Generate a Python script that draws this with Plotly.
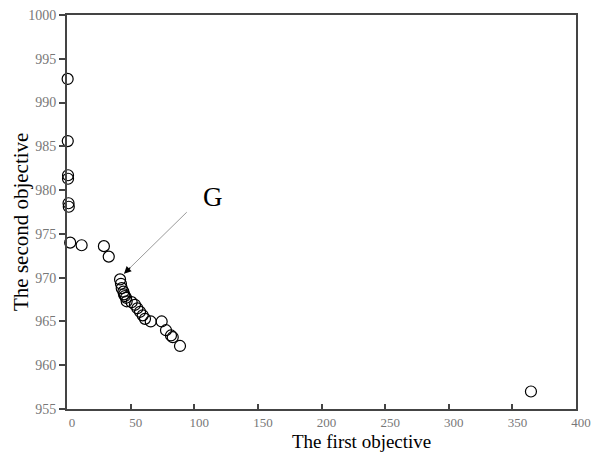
import plotly.graph_objects as go

# Pareto front points (first objective, second objective)
obj1 = [0.5, 0.6, 0.8, 0.8, 1.2, 1.4, 2.5, 11.5, 29.0, 32.8,
        41.7, 42.4, 43.0, 44.3, 44.8, 45.5, 46.4, 46.9, 50.8, 53.4,
        55.3, 57.4, 59.5, 61.3, 65.8, 74.4, 77.8, 81.7, 83.1, 88.8,
        364.6]
obj2 = [992.7, 985.6, 981.7, 981.3, 978.5, 978.1, 974.0, 973.7, 973.6, 972.4,
        969.8, 969.3, 968.8, 968.4, 968.1, 967.9, 967.7, 967.3, 967.2, 966.9,
        966.5, 966.1, 965.7, 965.3, 965.0, 965.0, 964.0, 963.4, 963.2, 962.2,
        957.0]

x_ticks = [0, 50, 100, 150, 200, 250, 300, 350, 400]
y_ticks = [955, 960, 965, 970, 975, 980, 985, 990, 995, 1000]

x_title = "The first objective"
y_title = "The second objective"
label_G = "G"
g_pos = (114.8, 979.2)
arrow_head = (44.8, 970.45)
arrow_tail = (95.3, 977.65)

serif = "Liberation Serif, Times New Roman, serif"

fig = go.Figure()
fig.add_trace(go.Scatter(
    x=obj1, y=obj2, mode="markers",
    marker=dict(symbol="circle-open", size=11, color="black",
                line=dict(width=1.2, color="black")),
    showlegend=False, cliponaxis=False,
))

# grey arrow shaft
fig.add_annotation(x=arrow_head[0], y=arrow_head[1], ax=arrow_tail[0], ay=arrow_tail[1],
                   xref="x", yref="y", axref="x", ayref="y", text="",
                   showarrow=True, arrowhead=0, arrowwidth=1, arrowcolor="#9a9a9a",
                   standoff=0)
# black arrow head
fig.add_annotation(x=arrow_head[0], y=arrow_head[1],
                   ax=arrow_head[0] + (arrow_tail[0] - arrow_head[0]) * 0.12,
                   ay=arrow_head[1] + (arrow_tail[1] - arrow_head[1]) * 0.12,
                   xref="x", yref="y", axref="x", ayref="y", text="",
                   showarrow=True, arrowhead=2, arrowsize=1.2, arrowwidth=1.2,
                   arrowcolor="black", standoff=0)
fig.add_annotation(x=g_pos[0], y=g_pos[1], xref="x", yref="y", text=label_G,
                   showarrow=False, font=dict(family=serif, size=27, color="black"))

# axis titles
fig.add_annotation(x=0.578, y=-0.0533, xref="paper", yref="paper", text=x_title,
                   showarrow=False, xanchor="center", yanchor="top", borderpad=0,
                   font=dict(family=serif, size=19, color="black"))
fig.add_annotation(x=-0.0904, y=0.4746, xref="paper", yref="paper", text=y_title,
                   showarrow=False, xanchor="center", yanchor="middle", textangle=-90,
                   font=dict(family=serif, size=21, color="black"))

fig.update_layout(
    width=598, height=452,
    margin=dict(l=67, r=22, t=15, b=43, autoexpand=False),
    plot_bgcolor="white", paper_bgcolor="white",
    font=dict(family=serif),
)
fig.update_xaxes(
    range=[0, 400], tickvals=x_ticks, ticktext=[str(v) for v in x_ticks],
    showgrid=False, zeroline=False, automargin=False,
    showline=True, linecolor="#444", linewidth=2, mirror=True,
    ticks="inside", ticklen=5, tickwidth=1.5, tickcolor="#444",
    ticklabelshift=5, ticklabelstandoff=0,
    tickfont=dict(family=serif, size=13, color="#777"),
)
fig.update_yaxes(
    range=[955, 1000], tickvals=y_ticks, ticktext=[str(v) for v in y_ticks],
    showgrid=False, zeroline=False, automargin=False,
    showline=True, linecolor="#444", linewidth=2, mirror=True,
    ticks="outside", ticklen=6, tickwidth=1.5, tickcolor="#444",
    tickfont=dict(family=serif, size=14, color="#777"),
)

fig.write_html("out.html")
